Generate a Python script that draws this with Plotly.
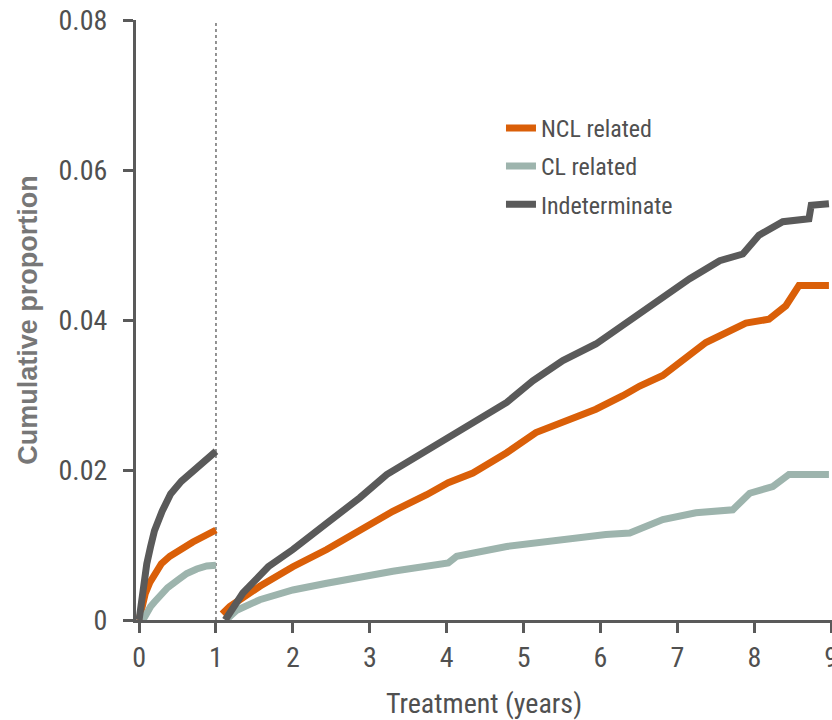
import plotly.graph_objects as go

# ---- data ----
series_names = ["NCL related", "CL related", "Indeterminate"]
series_colors = ["#DA5F08", "#9DB4AD", "#5A5A5A"]

# first year (segment 1)
ncl_t1 = [0, 0.03, 0.08, 0.14, 0.2, 0.29, 0.4, 0.55, 0.7, 0.85, 1.0]
ncl_v1 = [0, 0.0016, 0.0035, 0.005, 0.0062, 0.0075, 0.0085, 0.0095, 0.0104, 0.0112, 0.012]
cl_t1 = [0.05, 0.08, 0.15, 0.2, 0.28, 0.37, 0.5, 0.62, 0.75, 0.88, 1.0]
cl_v1 = [0, 0.0007, 0.0018, 0.0024, 0.0034, 0.0043, 0.0053, 0.0062, 0.0068, 0.0072, 0.0073]
ind_t1 = [0, 0.03, 0.06, 0.1, 0.15, 0.2, 0.3, 0.41, 0.55, 0.7, 0.85, 1.0]
ind_v1 = [0, 0.0025, 0.0045, 0.0075, 0.0098, 0.0119, 0.0145, 0.0168, 0.0185, 0.0198, 0.0212, 0.0225]

# after first year (segment 2)
ncl_t2 = [1.08, 1.18, 1.57, 2.0, 2.44, 2.87, 3.30, 3.74, 4.02, 4.34, 4.78, 5.16, 5.51, 5.94,
          6.29, 6.51, 6.81, 7.37, 7.89, 8.19, 8.41, 8.58, 8.97]
ncl_v2 = [0.0008, 0.0018, 0.0045, 0.0071, 0.0094, 0.012, 0.0145, 0.0167, 0.0183, 0.0196, 0.0223,
          0.025, 0.0263, 0.0281, 0.0299, 0.0312, 0.0326, 0.037, 0.0396, 0.0401, 0.0419, 0.0446, 0.0446]
cl_t2 = [1.13, 1.27, 1.57, 2.0, 2.44, 2.87, 3.30, 4.02, 4.13, 4.78, 5.42, 6.07, 6.38, 6.81,
         7.24, 7.72, 7.94, 8.24, 8.45, 8.97]
cl_v2 = [0, 0.0013, 0.0027, 0.004, 0.0049, 0.0058, 0.0065, 0.0076, 0.0085, 0.0098, 0.0107, 0.0114,
         0.0116, 0.0134, 0.0143, 0.0147, 0.0169, 0.0178, 0.0194, 0.0194]
ind_t2 = [1.12, 1.35, 1.68, 2.0, 2.44, 2.87, 3.22, 3.61, 4.02, 4.34, 4.78, 5.12, 5.51, 5.94,
          6.20, 6.51, 6.81, 7.16, 7.55, 7.85, 8.06, 8.37, 8.71, 8.74, 8.97]
ind_v2 = [0, 0.0036, 0.0071, 0.0094, 0.0129, 0.0163, 0.0194, 0.0218, 0.0245, 0.0263, 0.029,
          0.0319, 0.0346, 0.0368, 0.0386, 0.0408, 0.0428, 0.0455, 0.0479, 0.0488, 0.0513, 0.0531,
          0.0535, 0.0553, 0.0555]

x_ticks = [0, 1, 2, 3, 4, 5, 6, 7, 8, 9]
y_ticks = [0, 0.02, 0.04, 0.06, 0.08]
y_ticktext = ["0", "0.02", "0.04", "0.06", "0.08"]
break_year = 1

NARROW = "Roboto Condensed, Liberation Sans Narrow, DejaVu Sans Condensed, sans-serif"
AX = "#5A5A5A"
TXT = "#505050"

fig = go.Figure()
segments = [
    (ncl_t1, ncl_v1, ncl_t2, ncl_v2),
    (cl_t1, cl_v1, cl_t2, cl_v2),
    (ind_t1, ind_v1, ind_t2, ind_v2),
]
for name, color, (t1, v1, t2, v2) in zip(series_names, series_colors, segments):
    fig.add_trace(go.Scatter(x=t1, y=v1, mode="lines", name=name, legendgroup=name,
                             showlegend=False, line=dict(color=color, width=7)))
    fig.add_trace(go.Scatter(x=t2, y=v2, mode="lines", name=name, legendgroup=name,
                             showlegend=True, line=dict(color=color, width=7)))

fig.add_shape(type="line", xref="x", yref="paper", x0=break_year, x1=break_year, y0=0, y1=1,
              line=dict(color=AX, width=1.3, dash="3px,3px"), layer="below")

fig.update_layout(
    width=832, height=720,
    margin=dict(l=136, r=0, t=20, b=100),
    paper_bgcolor="white", plot_bgcolor="white",
    showlegend=True,
    legend=dict(x=0.5244, y=0.857, xanchor="left", yanchor="top",
                font=dict(family=NARROW, size=24, color=TXT),
                tracegroupgap=4, itemwidth=30, bgcolor="rgba(0,0,0,0)"),
    xaxis=dict(range=[-0.04, 9.01], tickvals=x_ticks, ticks="outside", ticklen=10,
               tickwidth=3, tickcolor=AX, showline=True, linewidth=3, linecolor=AX,
               showgrid=False, zeroline=False, ticklabeloverflow="allow", automargin=False,
               tickfont=dict(family=NARROW, size=28, color=TXT),
               title=dict(text="Treatment (years)", standoff=21,
                          font=dict(family=NARROW, size=28, color=TXT))),
    yaxis=dict(range=[0, 0.08], tickvals=y_ticks, ticktext=y_ticktext, ticks="outside",
               ticklen=10, tickwidth=3, tickcolor=AX, showline=True, linewidth=3,
               linecolor=AX, showgrid=False, zeroline=False, ticklabelstandoff=10,
               tickfont=dict(family=NARROW, size=28, color=TXT),
               title=dict(text="<b>Cumulative proportion</b>", standoff=14,
                          font=dict(family="Liberation Sans, Arial, sans-serif", size=27,
                                    color="#777777"))),
)

fig.write_html("out.html")
